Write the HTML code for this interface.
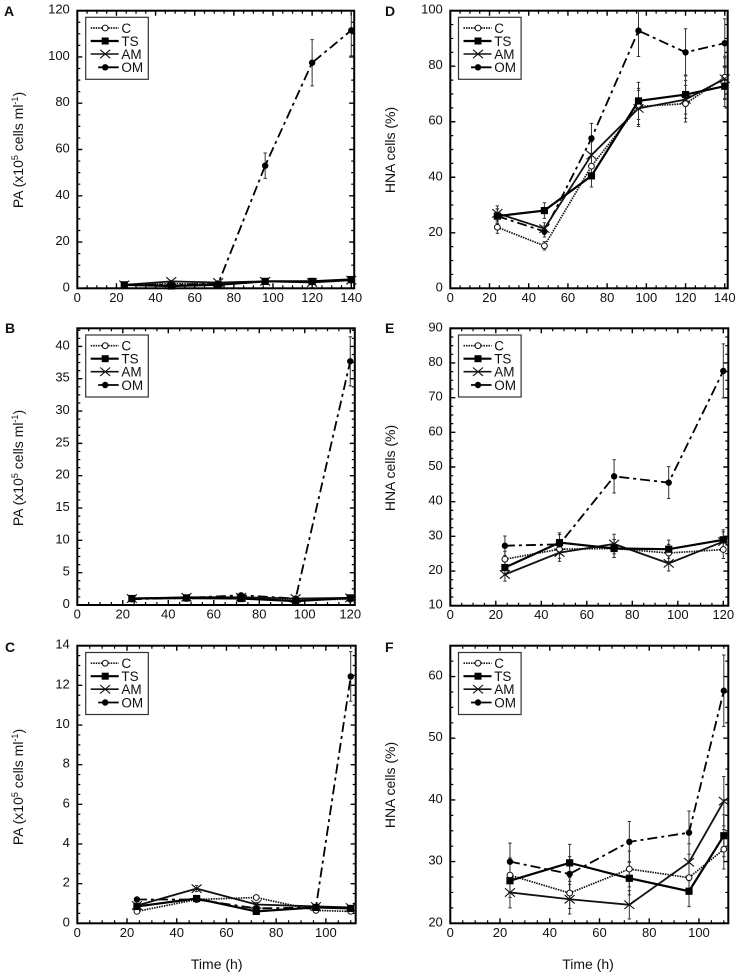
<!DOCTYPE html>
<html lang="en">
<head>
<meta charset="utf-8">
<title>PA and HNA cells over time</title>
<style>
html,body{margin:0;padding:0;background:#fff;}
svg{display:block;filter:blur(0.35px);}
text{font-family:"Liberation Sans",Arial,sans-serif;fill:#111;}
.lg text{font-size:13.5px;}
.yt{font-size:14px;}
.xt{font-size:14px;}
.let{font-size:14px;font-weight:bold;}
</style>
</head>
<body>
<svg id="figure" xmlns="http://www.w3.org/2000/svg" width="743" height="976" viewBox="0 0 743 976">
  <defs>
    <g id="legend-body">
      <rect x="0" y="0" width="62.6" height="62" fill="#fff" stroke="#333" stroke-width="1.2"/>
      <line x1="5" x2="33" y1="10.7" y2="10.7" stroke="#111" stroke-width="1.7" stroke-dasharray="1.5 1"/>
      <circle cx="19.5" cy="10.7" r="2.9" fill="#fff" stroke="#111" stroke-width="1"/>
      <line x1="5" x2="33" y1="23.7" y2="23.7" stroke="#000" stroke-width="2.2"/>
      <rect x="16" y="20.2" width="7" height="7" fill="#000"/>
      <line x1="5" x2="33" y1="36.7" y2="36.7" stroke="#111" stroke-width="1.6"/>
      <path d="M14.5 32.5L24.5 40.9M24.5 32.5L14.5 40.9" stroke="#111" stroke-width="1.1" fill="none"/>
      <line x1="12.5" x2="33" y1="50" y2="50" stroke="#000" stroke-width="1.8"/>
      <circle cx="19.5" cy="50" r="3.2" fill="#000"/>
    </g>
  </defs>

  <g id="panel-A">
    <text class="let" x="4" y="16">A</text>
    <text class="yt" transform="translate(23,150) rotate(-90)" text-anchor="middle">PA (x10<tspan dy="-5" font-size="9">5</tspan><tspan dy="5"> cells ml</tspan><tspan dy="-5" font-size="9">-1</tspan><tspan dy="5">)</tspan></text>
  </g>
  <g id="panel-D">
    <text class="let" x="385" y="16">D</text>
    <text class="yt" transform="translate(395,150) rotate(-90)" text-anchor="middle">HNA cells (%)</text>
  </g>
  <g id="panel-B">
    <text class="let" x="5" y="333">B</text>
    <text class="yt" transform="translate(23,468) rotate(-90)" text-anchor="middle">PA (x10<tspan dy="-5" font-size="9">5</tspan><tspan dy="5"> cells ml</tspan><tspan dy="-5" font-size="9">-1</tspan><tspan dy="5">)</tspan></text>
  </g>
  <g id="panel-E">
    <text class="let" x="385" y="333">E</text>
    <text class="yt" transform="translate(395,468) rotate(-90)" text-anchor="middle">HNA cells (%)</text>
  </g>
  <g id="panel-C">
    <text class="let" x="5" y="652">C</text>
    <text class="yt" transform="translate(23,787) rotate(-90)" text-anchor="middle">PA (x10<tspan dy="-5" font-size="9">5</tspan><tspan dy="5"> cells ml</tspan><tspan dy="-5" font-size="9">-1</tspan><tspan dy="5">)</tspan></text>
    <text class="xt" x="216.7" y="969" text-anchor="middle">Time (h)</text>
  </g>
  <g id="panel-F">
    <text class="let" x="385" y="652">F</text>
    <text class="yt" transform="translate(395,785) rotate(-90)" text-anchor="middle">HNA cells (%)</text>
    <text class="xt" x="588" y="969" text-anchor="middle">Time (h)</text>
  </g>

  <g id="legends-layer">
    <g class="lg" transform="translate(85.7,17.3)"><use href="#legend-body"/><text x="35.7" y="15.5">C</text><text x="35.7" y="28.5">TS</text><text x="35.7" y="41.5">AM</text><text x="35.7" y="54.8">OM</text></g>
    <g class="lg" transform="translate(458.5,17.3)"><use href="#legend-body"/><text x="35.7" y="15.5">C</text><text x="35.7" y="28.5">TS</text><text x="35.7" y="41.5">AM</text><text x="35.7" y="54.8">OM</text></g>
    <g class="lg" transform="translate(85.7,335)"><use href="#legend-body"/><text x="35.7" y="15.5">C</text><text x="35.7" y="28.5">TS</text><text x="35.7" y="41.5">AM</text><text x="35.7" y="54.8">OM</text></g>
    <g class="lg" transform="translate(458.5,335)"><use href="#legend-body"/><text x="35.7" y="15.5">C</text><text x="35.7" y="28.5">TS</text><text x="35.7" y="41.5">AM</text><text x="35.7" y="54.8">OM</text></g>
    <g class="lg" transform="translate(85.7,652.5)"><use href="#legend-body"/><text x="35.7" y="15.5">C</text><text x="35.7" y="28.5">TS</text><text x="35.7" y="41.5">AM</text><text x="35.7" y="54.8">OM</text></g>
    <g class="lg" transform="translate(458.5,652.5)"><use href="#legend-body"/><text x="35.7" y="15.5">C</text><text x="35.7" y="28.5">TS</text><text x="35.7" y="41.5">AM</text><text x="35.7" y="54.8">OM</text></g>
  </g>
</svg>

<script>
// ---------- Data ----------
const timeA = [24, 48, 72, 96, 120, 140];
const valuesA_C = [1.4, 2, 2, 3, 3, 3.5];
const valuesA_TS = [1.5, 1, 1.5, 3, 3, 3.8];
const valuesA_AM = [1.5, 3, 2.5, 3, 2.5, 3.5];
const valuesA_OM = [1.5, 1.5, 2, 53, 97.5, 111.5];
const errorsA_C = [0.2, 0.2, 0.2, 0.3, 0.3, 0.4];
const errorsA_TS = [0.2, 0.1, 0.2, 0.3, 0.3, 0.4];
const errorsA_AM = [0.2, 0.3, 0.3, 0.3, 0.3, 0.4];
const errorsA_OM = [0.2, 0.2, 0.2, 5.5, 10, 11];
const xTicksA = [0, 20, 40, 60, 80, 100, 120, 140];
const yTicksA = [0, 20, 40, 60, 80, 100, 120];
const xDomainA = [0, 141.5];
const yDomainA = [0, 120];

const timeD = [24, 48, 72, 96, 120, 140];
const valuesD_C = [22, 15.3, 44, 65.5, 66.5, 76];
const valuesD_TS = [26, 28, 40.5, 67.5, 69.8, 72.8];
const valuesD_AM = [27, 21.5, 48, 64.8, 68, 75.5];
const valuesD_OM = [26, 20.5, 54, 92.8, 85, 88.3];
const errorsD_C = [2.2, 1.5, 4.4, 6.5, 6.6, 7.6];
const errorsD_TS = [2.6, 2.8, 4, 6.7, 7, 7.3];
const errorsD_AM = [2.7, 2.1, 4.8, 6.5, 6.8, 7.5];
const errorsD_OM = [2.6, 2, 5.4, 9.3, 8.5, 8.8];
const xTicksD = [0, 20, 40, 60, 80, 100, 120, 140];
const yTicksD = [0, 20, 40, 60, 80, 100];
const xDomainD = [0, 141.5];
const yDomainD = [0, 100];

const timeB = [24, 48, 72, 96, 120];
const valuesB_C = [1, 1, 1, 0.8, 0.9];
const valuesB_TS = [1, 1.1, 1, 0.6, 1.1];
const valuesB_AM = [1, 1.2, 1.2, 1, 1.1];
const valuesB_OM = [0.9, 1.1, 1.5, 1, 37.7];
const errorsB_C = [0.1, 0.1, 0.1, 0.1, 0.1];
const errorsB_TS = [0.1, 0.1, 0.1, 0.1, 0.1];
const errorsB_AM = [0.1, 0.1, 0.1, 0.1, 0.1];
const errorsB_OM = [0.1, 0.1, 0.2, 0.1, 3.8];
const xTicksB = [0, 20, 40, 60, 80, 100, 120];
const yTicksB = [0, 5, 10, 15, 20, 25, 30, 35, 40];
const xDomainB = [0, 122];
const yDomainB = [0, 42.8];

const timeE = [24, 48, 72, 96, 120];
const valuesE_C = [23.4, 26.3, 26.5, 25.2, 26.2];
const valuesE_TS = [21, 28.2, 26.5, 26.3, 29];
const valuesE_AM = [19, 25.3, 27.8, 22.2, 28.5];
const valuesE_OM = [27.3, 27.7, 47.3, 45.5, 77.7];
const errorsE_C = [2.3, 2.6, 2.6, 2.5, 2.6];
const errorsE_TS = [2.1, 2.8, 2.6, 2.6, 2.9];
const errorsE_AM = [1.9, 2.5, 2.8, 2.2, 2.8];
const errorsE_OM = [2.8, 2.8, 4.8, 4.6, 7.8];
const xTicksE = [0, 20, 40, 60, 80, 100, 120];
const yTicksE = [10, 20, 30, 40, 50, 60, 70, 80, 90];
const xDomainE = [0, 122.2];
const yDomainE = [10, 90];

const timeC = [24, 48, 72, 96, 110];
const valuesC_C = [0.6, 1.2, 1.3, 0.65, 0.6];
const valuesC_TS = [0.85, 1.25, 0.6, 0.8, 0.75];
const valuesC_AM = [0.9, 1.75, 0.95, 0.85, 0.8];
const valuesC_OM = [1.2, 1.2, 0.75, 0.8, 12.45];
const errorsC_C = [0.06, 0.1, 0.1, 0.06, 0.06];
const errorsC_TS = [0.08, 0.1, 0.06, 0.08, 0.08];
const errorsC_AM = [0.09, 0.15, 0.1, 0.08, 0.08];
const errorsC_OM = [0.1, 0.1, 0.08, 0.08, 1.25];
const xTicksC = [0, 20, 40, 60, 80, 100];
const yTicksC = [0, 2, 4, 6, 8, 10, 12, 14];
const xDomainC = [0, 112];
const yDomainC = [0, 14];

const timeF = [24, 48, 72, 96, 110];
const valuesF_C = [27.8, 24.9, 28.8, 27.4, 32];
const valuesF_TS = [26.9, 29.8, 27.3, 25.2, 34.2];
const valuesF_AM = [25, 23.9, 23, 29.9, 39.8];
const valuesF_OM = [30, 28, 33.2, 34.7, 57.7];
const errorsF_C = [2.8, 2.5, 2.9, 2.7, 3.2];
const errorsF_TS = [2.7, 3, 2.7, 2.5, 3.4];
const errorsF_AM = [2.5, 2.4, 2.3, 3, 4];
const errorsF_OM = [3, 2.8, 3.3, 3.5, 5.8];
const xTicksF = [0, 20, 40, 60, 80, 100];
const yTicksF = [20, 30, 40, 50, 60];
const xDomainF = [0, 111.8];
const yDomainF = [20, 65];

// ---------- Panel wiring (layout kept apart from data) ----------
const NS = 'http://www.w3.org/2000/svg';
const legendsLayer = document.getElementById('legends-layer');

const panels = [
  {id:'A', key:'a', rect:[77.3,10.7,354.2,288.3], time:timeA, xt:xTicksA, yt:yTicksA, xd:xDomainA, yd:yDomainA,
   C:valuesA_C, TS:valuesA_TS, AM:valuesA_AM, OM:valuesA_OM, eC:errorsA_C, eTS:errorsA_TS, eAM:errorsA_AM, eOM:errorsA_OM},
  {id:'D', key:'d', rect:[450.3,10.7,727.7,288.3], time:timeD, xt:xTicksD, yt:yTicksD, xd:xDomainD, yd:yDomainD,
   C:valuesD_C, TS:valuesD_TS, AM:valuesD_AM, OM:valuesD_OM, eC:errorsD_C, eTS:errorsD_TS, eAM:errorsD_AM, eOM:errorsD_OM},
  {id:'B', key:'b', rect:[77.3,328.3,354.8,605], time:timeB, xt:xTicksB, yt:yTicksB, xd:xDomainB, yd:yDomainB,
   C:valuesB_C, TS:valuesB_TS, AM:valuesB_AM, OM:valuesB_OM, eC:errorsB_C, eTS:errorsB_TS, eAM:errorsB_AM, eOM:errorsB_OM},
  {id:'E', key:'e', rect:[450.3,328.3,728.3,605.7], time:timeE, xt:xTicksE, yt:yTicksE, xd:xDomainE, yd:yDomainE,
   C:valuesE_C, TS:valuesE_TS, AM:valuesE_AM, OM:valuesE_OM, eC:errorsE_C, eTS:errorsE_TS, eAM:errorsE_AM, eOM:errorsE_OM},
  {id:'C', key:'c', rect:[77.3,645.7,355.7,923.3], time:timeC, xt:xTicksC, yt:yTicksC, xd:xDomainC, yd:yDomainC,
   C:valuesC_C, TS:valuesC_TS, AM:valuesC_AM, OM:valuesC_OM, eC:errorsC_C, eTS:errorsC_TS, eAM:errorsC_AM, eOM:errorsC_OM},
  {id:'F', key:'f', rect:[450.3,645.7,728.3,923.3], time:timeF, xt:xTicksF, yt:yTicksF, xd:xDomainF, yd:yDomainF,
   C:valuesF_C, TS:valuesF_TS, AM:valuesF_AM, OM:valuesF_OM, eC:errorsF_C, eTS:errorsF_TS, eAM:errorsF_AM, eOM:errorsF_OM}
];

function make(tag, attrs, parent) {
  const el = document.createElementNS(NS, tag);
  for (const k in attrs) el.setAttribute(k, attrs[k]);
  parent.appendChild(el);
  return el;
}

const seriesStyles = {
  C: {stroke:'#111', width:1.7, dash:'1.5 1'},
  TS: {stroke:'#000', width:2.2, dash:''},
  AM: {stroke:'#111', width:1.8, dash:''},
  OM: {stroke:'#000', width:1.8, dash:'10 4 3 4'}
};

function drawPanel(p) {
  const host = document.getElementById('panel-' + p.id);
  const [L, T, R, B] = p.rect;
  const xScale = v => L + (v - p.xd[0]) / (p.xd[1] - p.xd[0]) * (R - L);
  const yScale = v => B - (v - p.yd[0]) / (p.yd[1] - p.yd[0]) * (B - T);

  const clip = make('clipPath', {id:'clip-' + p.key}, host);
  make('rect', {x:L, y:T, width:R - L, height:B - T}, clip);

  const axes = make('g', {stroke:'#000', fill:'none'}, host);
  
  

  // minor ticks between the major ticks
  const xStep = p.xt[1] - p.xt[0];
  const yStep = p.yt[1] - p.yt[0];
  let tickPath = '';
  let minorPath = '';
  for (let v = p.xd[0]; v <= p.xd[1] + 1e-6; v += xStep / 4) {
    const x = xScale(v);
    const isMajor = p.xt.some(t => Math.abs(t - v) < 1e-6);
    const len = isMajor ? 5 : 3;
    const seg = 'M' + x + ' ' + B + 'V' + (B - len) + 'M' + x + ' ' + T + 'V' + (T + len);
    if (isMajor) tickPath += seg; else minorPath += seg;
  }
  for (let v = p.yd[0]; v <= p.yd[1] + 1e-6; v += yStep / 4) {
    const y = yScale(v);
    const isMajor = p.yt.some(t => Math.abs(t - v) < 1e-6);
    const len = isMajor ? 5 : 3;
    const seg = 'M' + L + ' ' + y + 'H' + (L + len) + 'M' + R + ' ' + y + 'H' + (R - len);
    if (isMajor) tickPath += seg; else minorPath += seg;
  }
  const majorTicks = make('path', {d:tickPath, 'stroke-width':1.4}, axes);
  
  
  const minorTicks = make('path', {d:minorPath, 'stroke-width':1.2}, axes);
  
  

  const frame = make('rect', {x:L, y:T, width:R - L, height:B - T, 'stroke-width':2}, axes);
  
  

  // tick labels
  p.xt.forEach(function (v) {
    const t = make('text', {x:xScale(v), y:B + 13.5, 'text-anchor':'middle', 'font-size':13}, host);
    t.textContent = v;
    
    
  });
  p.yt.forEach(function (v) {
    const t = make('text', {x:L - 7.5, y:yScale(v) + 3, 'text-anchor':'end', 'font-size':13}, host);
    t.textContent = v;
    
    
  });

  // error bars, all series, clipped to the plot frame
  ['C', 'TS', 'AM', 'OM'].forEach(function (s) {
    const group = make('g', {stroke:'#333', 'stroke-width':1, fill:'none', 'clip-path':'url(#clip-' + p.key + ')'}, host);
    
    
    p[s].forEach(function (v, i) {
      const x = xScale(p.time[i]);
      const y1 = yScale(v - p['e' + s][i]);
      const y2 = yScale(v + p['e' + s][i]);
      const bar = make('path', {d:'M' + x + ' ' + y1 + 'V' + y2 + 'M' + (x - 1.7) + ' ' + y1 + 'H' + (x + 1.7) + 'M' + (x - 1.7) + ' ' + y2 + 'H' + (x + 1.7)}, group);
      
      
    });
  });

  // series lines and markers
  ['C', 'OM', 'AM', 'TS'].forEach(function (s) {
    const st = seriesStyles[s];
    const group = make('g', {}, host);
    
    
    const pts = p[s].map((v, i) => xScale(p.time[i]) + ',' + yScale(v)).join(' ');
    const line = make('polyline', {points:pts, fill:'none', stroke:st.stroke, 'stroke-width':st.width, 'stroke-dasharray':st.dash}, group);
    
    
    p[s].forEach(function (v, i) {
      const x = xScale(p.time[i]);
      const y = yScale(v);
      let m;
      if (s === 'C') {
        m = make('circle', {cx:x, cy:y, r:2.9, fill:'#fff', stroke:'#111', 'stroke-width':1}, group);
      } else if (s === 'TS') {
        m = make('rect', {x:x - 3.6, y:y - 3.6, width:7.2, height:7.2, fill:'#000'}, group);
      } else if (s === 'AM') {
        m = make('path', {d:'M' + (x - 5) + ' ' + (y - 4.2) + 'L' + (x + 5) + ' ' + (y + 4.2) + 'M' + (x + 5) + ' ' + (y - 4.2) + 'L' + (x - 5) + ' ' + (y + 4.2), stroke:'#111', 'stroke-width':1.1, fill:'none'}, group);
      } else {
        m = make('circle', {cx:x, cy:y, r:3.2, fill:'#000'}, group);
      }
      
      
    });
  });
}

panels.forEach(drawPanel);
// keep legends above the plotted marks
legendsLayer.parentNode.appendChild(legendsLayer);
</script>
</body>
</html>
